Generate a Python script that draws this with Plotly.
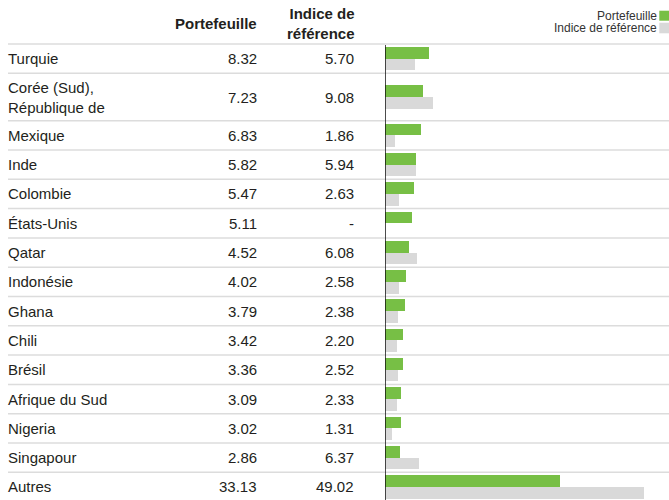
import plotly.graph_objects as go

# ---- data ----
countries = ["Turquie", "Corée (Sud),<br>République de", "Mexique", "Inde", "Colombie",
             "États-Unis", "Qatar", "Indonésie", "Ghana", "Chili", "Brésil",
             "Afrique du Sud", "Nigeria", "Singapour", "Autres"]
portfolio = [8.32, 7.23, 6.83, 5.82, 5.47, 5.11, 4.52, 4.02, 3.79, 3.42, 3.36, 3.09, 3.02, 2.86, 33.13]
benchmark = [5.70, 9.08, 1.86, 5.94, 2.63, None, 6.08, 2.58, 2.38, 2.20, 2.52, 2.33, 1.31, 6.37, 49.02]
col_titles = ["Portefeuille", "Indice de<br>référence"]
series_names = ["Portefeuille", "Indice de référence"]

# ---- layout (screen pixel space) ----
W, H = 669, 500
header_h = 44.0
row_h = [29.3, 47.4] + [29.3] * 13
bounds = [header_h]
for h in row_h:
    bounds.append(bounds[-1] + h)
centers = [(bounds[i] + bounds[i + 1]) / 2 for i in range(len(row_h))]
bar_h = 11.7

GREEN = "#77bf45"
GREY = "#d9d9d9"
TXT = "#231f20"
FONT = "Liberation Sans, Arial, sans-serif"

x0_px = 385.0
px_per_unit = 5.28
xmax = (W - x0_px) / px_per_unit


def px(x):
    return x / W


fig = go.Figure()
fig.add_trace(go.Bar(
    x=portfolio, y=[c - bar_h / 2 for c in centers], orientation="h",
    width=bar_h, marker=dict(color=GREEN, line=dict(width=0)),
    name=series_names[0], showlegend=False, hoverinfo="x"))
fig.add_trace(go.Bar(
    x=benchmark, y=[c + bar_h / 2 for c in centers], orientation="h",
    width=bar_h, marker=dict(color=GREY, line=dict(width=0)),
    name=series_names[1], showlegend=False, hoverinfo="x"))

ann = []
col1_r = 258.5
col2_r = 356.0
for i, name in enumerate(countries):
    ann.append(dict(x=px(6), y=centers[i], xref="paper", yref="y", text=name,
                    showarrow=False, xanchor="left", yanchor="middle", align="left",
                    font=dict(family=FONT, size=15, color=TXT)))
    ann.append(dict(x=px(col1_r), y=centers[i], xref="paper", yref="y",
                    text=f"{portfolio[i]:.2f}", showarrow=False, xanchor="right",
                    yanchor="middle", font=dict(family=FONT, size=15, color=TXT)))
    b = benchmark[i]
    ann.append(dict(x=px(col2_r), y=centers[i], xref="paper", yref="y",
                    text=(f"{b:.2f}" if b is not None else "-"), showarrow=False,
                    xanchor="right", yanchor="middle",
                    font=dict(family=FONT, size=15, color=TXT)))

ann.append(dict(x=px(col1_r), y=23.5, xref="paper", yref="y", text="<b>" + col_titles[0] + "</b>",
                showarrow=False, xanchor="right", yanchor="middle", align="right",
                font=dict(family=FONT, size=15, color=TXT)))
ann.append(dict(x=px(col2_r), y=23.5, xref="paper", yref="y", text="<b>" + col_titles[1] + "</b>",
                showarrow=False, xanchor="right", yanchor="middle", align="right",
                borderpad=0, font=dict(family=FONT, size=15, color=TXT)))

# legend
ann.append(dict(x=px(657.5), y=15.5, xref="paper", yref="y", text=series_names[0],
                showarrow=False, xanchor="right", yanchor="middle", borderpad=0,
                font=dict(family=FONT, size=12, color="#333333")))
ann.append(dict(x=px(657.5), y=27.5, xref="paper", yref="y", text=series_names[1],
                showarrow=False, xanchor="right", yanchor="middle", borderpad=0,
                font=dict(family=FONT, size=12, color="#333333")))

shapes = []
shapes.append(dict(type="rect", xref="paper", yref="y", x0=px(659.3), x1=1, y0=10.7, y1=20.7,
                   fillcolor=GREEN, line=dict(width=0)))
shapes.append(dict(type="rect", xref="paper", yref="y", x0=px(659.3), x1=1, y0=22.7, y1=33.3,
                   fillcolor=GREY, line=dict(width=0)))
for yb in bounds[:-1]:
    shapes.append(dict(type="line", xref="paper", yref="y", x0=px(8), x1=1, y0=yb, y1=yb,
                       line=dict(color="#dcdcdc", width=1.5), layer="below"))
shapes.append(dict(type="line", xref="x", yref="y", x0=0, x1=0, y0=bounds[0] + 1, y1=H,
                   line=dict(color="#111111", width=1.5), layer="above"))

fig.update_layout(
    width=W, height=H, margin=dict(l=0, r=0, t=0, b=0),
    paper_bgcolor="white", plot_bgcolor="white",
    barmode="overlay", bargap=0,
    xaxis=dict(domain=[px(x0_px), 1], range=[0, xmax], visible=False, fixedrange=True),
    yaxis=dict(range=[H, 0], visible=False, fixedrange=True),
    annotations=ann, shapes=shapes, showlegend=False,
)
fig.write_html("out.html", config={"displayModeBar": False},
               post_script="document.body.style.margin='0px';document.body.style.overflow='hidden';")
